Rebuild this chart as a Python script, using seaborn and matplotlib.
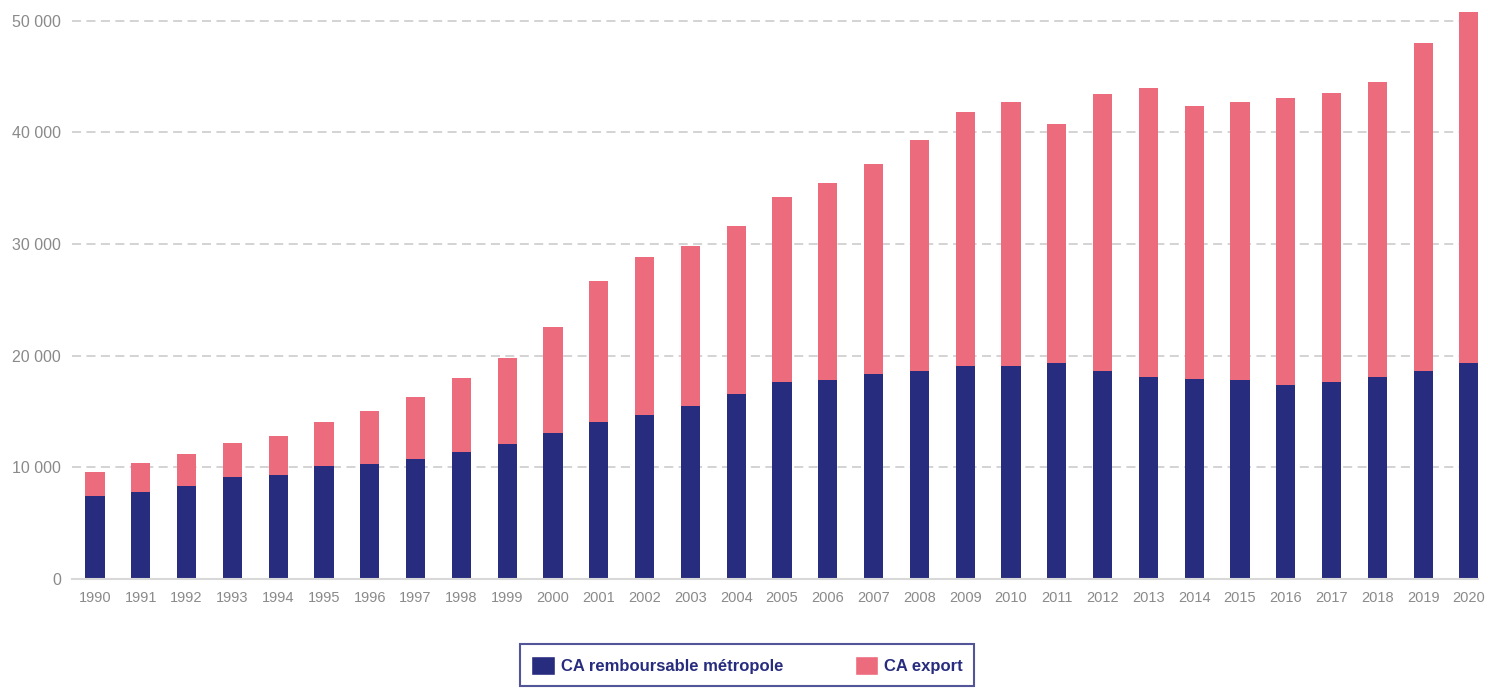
import numpy as np
import pandas as pd
import seaborn as sns
import matplotlib.pyplot as plt
from matplotlib.patches import Patch

# values
years = [str(y) for y in range(1990, 2021)]
ca_metropole = [7400, 7800, 8300, 9100, 9300, 10100, 10300, 10700, 11400, 12100,
                13100, 14100, 14700, 15500, 16600, 17600, 17800, 18400, 18600, 19100,
                19100, 19300, 18600, 18100, 17900, 17800, 17400, 17600, 18100, 18600, 19300]
ca_total = [9600, 10400, 11200, 12200, 12800, 14100, 15000, 16300, 18000, 19800,
            22600, 26700, 28800, 29800, 31600, 34200, 35500, 37200, 39300, 41800,
            42700, 40800, 43400, 44000, 42400, 42700, 43100, 43500, 44500, 48000, 50800]
y_ticks = [0, 10000, 20000, 30000, 40000, 50000]
y_labels = ['0', '10 000', '20 000', '30 000', '40 000', '50 000']

df = pd.DataFrame({'year': years, 'metropole': ca_metropole, 'total': ca_total})

navy = '#272c7e'
pink = '#ec6b7d'

sns.set_style('white')
plt.rcParams['font.family'] = ['Liberation Sans', 'DejaVu Sans']

fig = plt.figure(figsize=(14.88, 6.9), dpi=100)
ax = fig.add_axes([0.0484, 0.161, 0.945, 0.825])

# stacked bars: total in pink, metropole drawn over it
sns.barplot(data=df, x='year', y='total', color=pink, width=0.42, saturation=1,
            linewidth=0, ax=ax)
sns.barplot(data=df, x='year', y='metropole', color=navy, width=0.42, saturation=1,
            linewidth=0, ax=ax)

ax.set_xlim(-0.5, 30.2)
ax.set_ylim(0, 51000)
ax.set_yticks(y_ticks)
ax.set_yticklabels(y_labels)
ax.set_xlabel('')
ax.set_ylabel('')

for y in y_ticks[1:]:
    ax.axhline(y, color='#d0d0d0', linestyle=(0, (5, 3)), linewidth=1.3, zorder=0)
ax.set_axisbelow(True)

for s in ['top', 'right', 'left']:
    ax.spines[s].set_visible(False)
ax.spines['bottom'].set_color('#d8d8d8')
ax.spines['bottom'].set_linewidth(1.5)

ax.tick_params(axis='both', length=0, colors='#8a8a8a')
ax.tick_params(axis='y', pad=8, labelsize=11.5)
ax.tick_params(axis='x', pad=9, labelsize=10.5)

handles = [Patch(facecolor=navy, label='CA remboursable métropole'),
           Patch(facecolor=pink, label='CA export')]
leg = fig.legend(handles=handles, loc='center', bbox_to_anchor=(0.502, 0.036), ncol=2,
                 frameon=True, fancybox=False, edgecolor=navy, columnspacing=4.3,
                 handlelength=1.4, handleheight=1.4, handletextpad=0.35, borderpad=0.7,
                 prop={'weight': 'bold', 'size': 12})
leg.get_frame().set_linewidth(1.5)
for t in leg.get_texts():
    t.set_color(navy)

fig.savefig('out.png', dpi=100)
